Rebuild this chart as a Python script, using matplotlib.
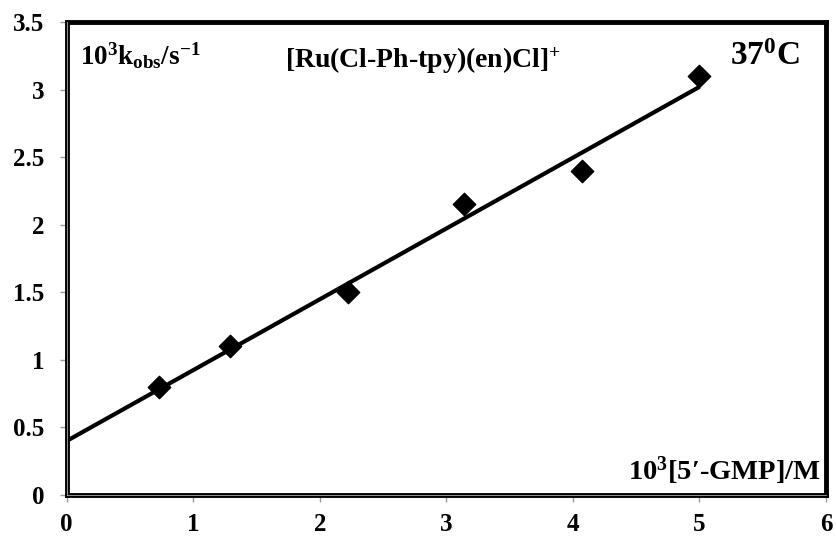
import matplotlib
matplotlib.use("Agg")
import matplotlib.pyplot as plt
import numpy as np

plt.rcParams['font.family'] = ['Liberation Serif', 'DejaVu Serif']
plt.rcParams['mathtext.fontset'] = 'custom'
plt.rcParams['mathtext.rm'] = 'Liberation Serif:bold'
plt.rcParams['mathtext.it'] = 'Liberation Serif:bold'
plt.rcParams['mathtext.bf'] = 'Liberation Serif:bold'

gmp = [0.73, 1.29, 2.22, 3.14, 4.07, 5.00]
kobs = [0.80, 1.10, 1.50, 2.15, 2.40, 3.10]
fit_x = [0.0, 5.0]
fit_y = [0.40, 3.02]
xticks = [0, 1, 2, 3, 4, 5, 6]
yticks = [0, 0.5, 1, 1.5, 2, 2.5, 3, 3.5]
ytick_labels = ['0', '0.5', '1', '1.5', '2', '2.5', '3', '3.5']

fig = plt.figure(figsize=(8.36, 5.37), dpi=100)
ax = fig.add_axes([66.7/836, 1 - 495/537, (826-66.7)/836, (495-22)/537])

ax.plot(fit_x, fit_y, color='black', lw=3, solid_capstyle='butt', zorder=3)
ax.scatter(gmp, kobs, marker='D', s=130, color='black', zorder=4)

ax.set_xlim(0, 6)
ax.set_ylim(0, 3.5)
ax.set_xticks(xticks)
ax.set_xticklabels([str(t) for t in xticks])
ax.set_yticks(yticks)
ax.set_yticklabels(ytick_labels)
ax.tick_params(direction='out', length=5, width=1, color='#999999', labelsize=18)
ax.tick_params(axis='y', pad=11)
ax.tick_params(axis='x', pad=8)
for lab in ax.get_xticklabels() + ax.get_yticklabels():
    lab.set_fontweight('bold')

for s in ['top', 'right', 'left', 'bottom']:
    ax.spines[s].set_linewidth(3.5)
ax.axhline(0, color='#aaaaaa', lw=0.6, clip_on=False, zorder=5)
ax.axvline(0, color='#aaaaaa', lw=0.6, clip_on=False, zorder=5)

ax.text(0.018, 0.96, r'10$^{3}$k$_{\mathrm{obs}}$/s$^{-1}$', transform=ax.transAxes,
        fontsize=19.5, fontweight='bold', va='top', ha='left')
ax.text(0.287, 0.95, r'[Ru(Cl-Ph-tpy)(en)Cl]$^{+}$', transform=ax.transAxes,
        fontsize=20, fontweight='bold', va='top', ha='left')
ax.text(0.873, 0.96, r'37$^{0}$C', transform=ax.transAxes,
        fontsize=24, fontweight='bold', va='top', ha='left')
ax.text(0.993, 0.017, r'10$^{3}$[5′-GMP]/M', transform=ax.transAxes,
        fontsize=20.5, fontweight='bold', va='bottom', ha='right')

fig.savefig('out.png', dpi=100)
